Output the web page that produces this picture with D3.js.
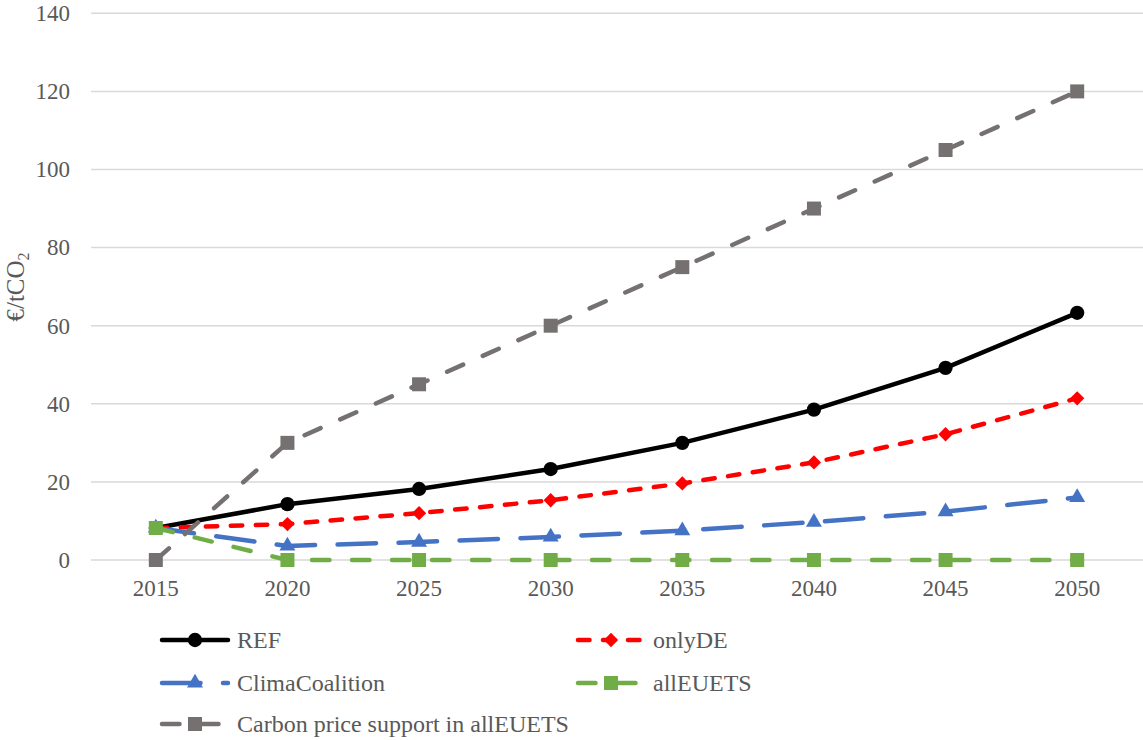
<!DOCTYPE html>
<html>
<head>
<meta charset="utf-8">
<script src="https://cdn.jsdelivr.net/npm/d3@7"></script>
<style>
  body { margin: 0; background: #fff; }
  svg text { font-family: "Liberation Serif", "Times New Roman", serif; fill: #595959; }
</style>
</head>
<body>
<div id="chart"></div>
<script>
const years = ['2015', '2020', '2025', '2030', '2035', '2040', '2045', '2050'];
const yTicks = [0, 20, 40, 60, 80, 100, 120, 140];

const refValues = [8.2, 14.3, 18.2, 23.3, 30.0, 38.5, 49.2, 63.3];
const onlyDEValues = [8.2, 9.2, 12.0, 15.3, 19.6, 25.0, 32.2, 41.4];
const climaValues = [8.2, 3.6, 4.6, 5.9, 7.5, 9.7, 12.4, 16.0];
const allEUETSValues = [8.2, 0, 0, 0, 0, 0, 0, 0];
const carbonValues = [0, 30, 45, 60, 75, 90, 105, 120];

const seriesNames = ['REF', 'onlyDE', 'ClimaCoalition', 'allEUETS', 'Carbon price support in allEUETS'];

const series = [
  { name: seriesNames[0], values: refValues, color: '#000000', dash: null, marker: 'circle' },
  { name: seriesNames[1], values: onlyDEValues, color: '#ff0000', dash: '11.5 13.5', marker: 'diamond' },
  { name: seriesNames[2], values: climaValues, color: '#4472c4', dash: '38.5 22.5', marker: 'triangle' },
  { name: seriesNames[3], values: allEUETSValues, color: '#70ad47', dash: '17.5 22.5', marker: 'square' },
  { name: seriesNames[4], values: carbonValues, color: '#767171', dash: '17.5 21.5', marker: 'square' },
];

const svgWidth = 1143;
const svgHeight = 740;

const svg = d3.select('#chart').append('svg')
  .attr('width', svgWidth)
  .attr('height', svgHeight);

const x = d3.scaleBand()
  .domain(years)
  .range([90, 1143])
  .padding(0);

const y = d3.scaleLinear()
  .domain([0, 140])
  .range([560, 13.3]);

// gridlines
svg.append('g')
  .selectAll('line')
  .data(yTicks)
  .join('line')
  .attr('x1', 91)
  .attr('x2', 1143)
  .attr('y1', d => y(d))
  .attr('y2', d => y(d))
  .attr('stroke', '#d9d9d9')
  .attr('stroke-width', 1.5);

// y axis labels
const yAxis = svg.append('g')
  .attr('transform', 'translate(70,0)')
  .call(d3.axisLeft(y).tickValues(yTicks).tickSize(0).tickPadding(0));
yAxis.select('.domain').remove();
yAxis.selectAll('text')
  .attr('font-size', 23)
  .attr('fill', '#595959')
  .attr('font-family', '"Liberation Serif", serif');

// x axis labels
const xAxis = svg.append('g')
  .attr('transform', 'translate(0,580)')
  .call(d3.axisBottom(x).tickSize(0).tickPadding(0));
xAxis.select('.domain').remove();
xAxis.selectAll('text')
  .attr('font-size', 23)
  .attr('fill', '#595959')
  .attr('font-family', '"Liberation Serif", serif');

// y title
const yTitle = svg.append('text')
  .attr('transform', 'translate(24,287) rotate(-90)')
  .attr('text-anchor', 'middle')
  .attr('font-size', 25);
yTitle.append('tspan').text('€/tCO');
yTitle.append('tspan').attr('font-size', 16).attr('dy', 5).text('2');

const symbols = {
  circle: d3.symbol().type(d3.symbolCircle).size(160),
  diamond: d3.symbol().type(d3.symbolDiamond2).size(130),
  triangle: d3.symbol().type(d3.symbolTriangle).size(110),
  square: d3.symbol().type(d3.symbolSquare).size(196),
};

const line = d3.line()
  .x((d, i) => x(years[i]) + x.bandwidth() / 2)
  .y(d => y(d));

series.forEach(s => {
  const g = svg.append('g');
  g.append('path')
    .datum(s.values)
    .attr('fill', 'none')
    .attr('stroke', s.color)
    .attr('stroke-width', 4.5)
    .attr('stroke-linecap', 'round')
    .attr('stroke-linejoin', 'round')
    .attr('stroke-dasharray', s.dash)
    .attr('d', line);
  g.selectAll('path.mark')
    .data(s.values)
    .join('path')
    .attr('class', 'mark')
    .attr('transform', (d, i) => `translate(${x(years[i]) + x.bandwidth() / 2},${y(d)})`)
    .attr('d', symbols[s.marker])
    .attr('fill', s.color);
});

// legend
const legendPos = [
  [160, 640], [576, 640],
  [160, 683], [576, 683],
  [160, 724],
];

series.forEach((s, i) => {
  const [lx, ly] = legendPos[i];
  const g = svg.append('g').attr('transform', `translate(${lx},${ly})`);
  g.append('line')
    .attr('x1', 2).attr('x2', 68)
    .attr('y1', 0).attr('y2', 0)
    .attr('stroke', s.color)
    .attr('stroke-width', 4.5)
    .attr('stroke-linecap', 'round')
    .attr('stroke-dasharray', s.dash);
  g.append('path')
    .attr('transform', 'translate(35,0)')
    .attr('d', symbols[s.marker])
    .attr('fill', s.color);
  g.append('text')
    .attr('x', 77)
    .attr('y', 0)
    .attr('dy', '0.35em')
    .attr('font-size', 24)
    .text(s.name);
});
</script>
</body>
</html>
